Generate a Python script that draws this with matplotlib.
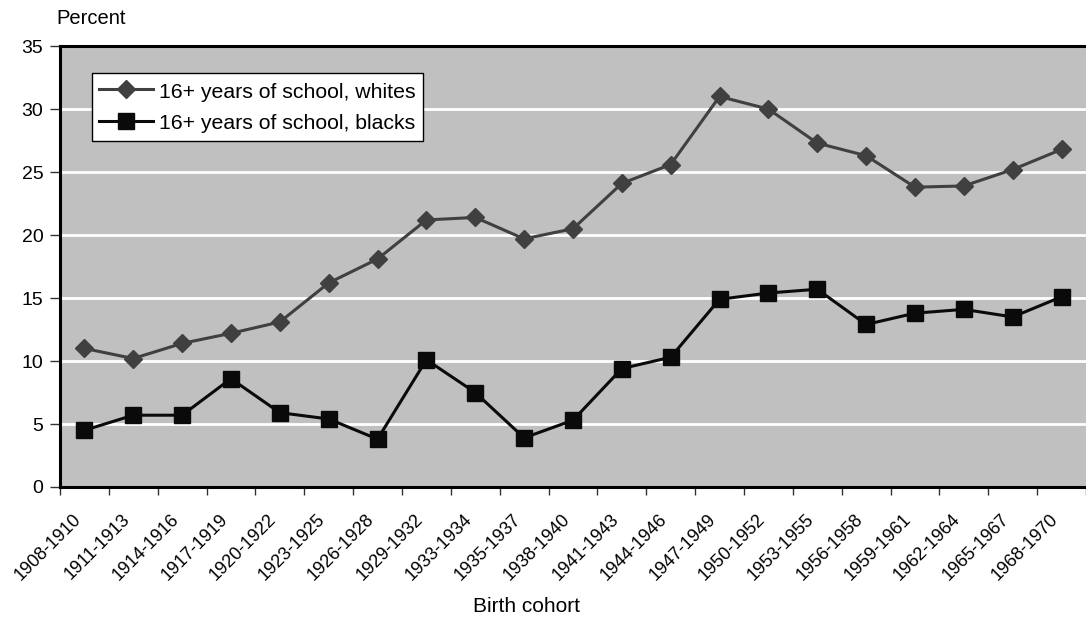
import matplotlib.pyplot as plt
import matplotlib.transforms as mtransforms
import numpy as np

plt.rcParams['font.family'] = ['Liberation Sans', 'DejaVu Sans']

# Birth cohorts and share with 16+ years of schooling (percent)
cohorts = ["1908-1910", "1911-1913", "1914-1916", "1917-1919", "1920-1922",
           "1923-1925", "1926-1928", "1929-1932", "1933-1934", "1935-1937",
           "1938-1940", "1941-1943", "1944-1946", "1947-1949", "1950-1952",
           "1953-1955", "1956-1958", "1959-1961", "1962-1964", "1965-1967",
           "1968-1970"]
whites = [11.0, 10.2, 11.4, 12.2, 13.1, 16.2, 18.1, 21.2, 21.4, 19.7, 20.5,
          24.1, 25.6, 31.0, 30.0, 27.3, 26.3, 23.8, 23.9, 25.2, 26.8]
blacks = [4.5, 5.7, 5.7, 8.6, 5.9, 5.4, 3.8, 10.1, 7.5, 3.9, 5.3,
          9.4, 10.3, 14.9, 15.4, 15.7, 12.9, 13.8, 14.1, 13.5, 15.1]

x = np.arange(len(cohorts))

fig = plt.figure(figsize=(10.86, 6.23), dpi=100)
ax = fig.add_axes([0.0552, 0.2183, 0.9448, 0.7077])
ax.set_facecolor('#c0c0c0')

ax.plot(x, whites, color='#404040', lw=2.2, marker='D', ms=9.5,
        label='16+ years of school, whites', zorder=3)
ax.plot(x, blacks, color='#0a0a0a', lw=2.2, marker='s', ms=11,
        label='16+ years of school, blacks', zorder=3)

ax.set_ylim(0, 35)
ax.set_yticks(range(0, 36, 5))
ax.yaxis.grid(True, color='white', lw=2)
ax.set_axisbelow(True)

# category boundaries carry the tick marks, labels sit at the category centres
ax.set_xlim(-0.5, len(cohorts) - 0.5)
ax.set_xticks(np.arange(-0.5, len(cohorts), 1.0))
ax.set_xticklabels([])
ax.set_xticks(x, minor=True)
ax.set_xticklabels(cohorts, minor=True, rotation=45, ha='right',
                   rotation_mode='anchor', fontsize=13)
ax.tick_params(axis='x', which='minor', length=0, pad=17)
ax.tick_params(axis='x', which='major', length=6, width=1, color='#333333')
ax.tick_params(axis='y', length=7, width=1, color='#333333', labelsize=14,
               pad=5)
offset = mtransforms.ScaledTranslation(-0.12, 0, fig.dpi_scale_trans)
for lab in ax.get_xticklabels(minor=True):
    lab.set_transform(lab.get_transform() + offset)

for side in ['left', 'bottom', 'top']:
    ax.spines[side].set_linewidth(2.2)
    ax.spines[side].set_color('black')
ax.spines['right'].set_visible(False)

ax.set_xlabel('Birth cohort', fontsize=15, va='center')
ax.xaxis.set_label_coords(0.455, -0.272)
fig.text(0.052, 0.970, 'Percent', fontsize=14.5, va='center', ha='left')

leg = ax.legend(loc='upper left', bbox_to_anchor=(0.031, 0.938), fontsize=15.3,
                frameon=True, fancybox=False, edgecolor='black',
                handlelength=2.5, borderpad=0.36, labelspacing=0.5,
                handletextpad=0.3, borderaxespad=0, handleheight=1.0)
leg.get_frame().set_linewidth(1)
leg.get_frame().set_facecolor('white')
leg.get_frame().set_alpha(1)

fig.savefig('out.png', dpi=100)
